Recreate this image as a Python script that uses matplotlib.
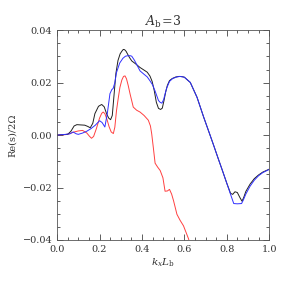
import matplotlib
matplotlib.use("Agg")
import matplotlib.pyplot as plt
from matplotlib.ticker import MultipleLocator, FormatStrFormatter, FuncFormatter

plt.rcParams['font.family'] = ['DejaVu Serif']
plt.rcParams['mathtext.fontset'] = 'dejavuserif'

# black curve
k_black = [0, 0.03, 0.05, 0.065, 0.08, 0.093, 0.11, 0.13, 0.145, 0.156, 0.168, 0.178, 0.195,
           0.21, 0.222, 0.233, 0.243, 0.252, 0.26, 0.268, 0.277, 0.287, 0.297, 0.305, 0.312,
           0.318, 0.325, 0.333, 0.342, 0.352, 0.37, 0.391, 0.41, 0.425, 0.438, 0.448, 0.458,
           0.468, 0.478, 0.488, 0.496, 0.504, 0.512, 0.52, 0.53, 0.543, 0.56, 0.575, 0.59, 0.6,
           0.628, 0.66, 0.691, 0.72, 0.74, 0.76, 0.78, 0.8, 0.818, 0.828, 0.839, 0.85, 0.862,
           0.872, 0.88, 0.89, 0.91, 0.93, 0.95, 0.97, 1.0]
v_black = [0, 0.0002, 0.0003, 0.0015, 0.0035, 0.004, 0.0039, 0.0038, 0.0033, 0.0028, 0.0045,
           0.0082, 0.011, 0.0117, 0.0108, 0.0082, 0.0065, 0.0059, 0.0075, 0.015, 0.0235, 0.0285,
           0.031, 0.032, 0.0327, 0.0326, 0.032, 0.0308, 0.0295, 0.0283, 0.0272, 0.0258, 0.0248,
           0.024, 0.0225, 0.0205, 0.017, 0.0125, 0.0102, 0.0098, 0.0103, 0.0132, 0.0165, 0.019,
           0.0208, 0.0216, 0.0222, 0.0224, 0.0223, 0.0221, 0.0201, 0.0144, 0.0069, 0.0003,
           -0.0043, -0.009, -0.0136, -0.0183, -0.0222, -0.0226, -0.0216, -0.0219, -0.0238,
           -0.0252, -0.0238, -0.0215, -0.0187, -0.0166, -0.0152, -0.0141, -0.013]

# blue curve
k_blue = [0, 0.04, 0.06, 0.075, 0.09, 0.1, 0.12, 0.14, 0.16, 0.18, 0.2, 0.212, 0.225, 0.237,
          0.249, 0.258, 0.264, 0.272, 0.28, 0.295, 0.31, 0.322, 0.333, 0.345, 0.352, 0.365,
          0.378, 0.391, 0.41, 0.425, 0.438, 0.45, 0.462, 0.47, 0.478, 0.486, 0.494, 0.502, 0.51,
          0.517, 0.53, 0.545, 0.565, 0.58, 0.6, 0.628, 0.66, 0.691, 0.72, 0.74, 0.76, 0.78, 0.8,
          0.818, 0.833, 0.85, 0.87, 0.878, 0.89, 0.91, 0.93, 0.95, 0.97, 1.0]
v_blue = [0, 0.0003, 0.0005, 0.0012, 0.0005, 0.0003, 0.0008, 0.0015, 0.0025, 0.0038, 0.0055,
          0.0048, 0.0031, 0.0085, 0.0158, 0.0174, 0.0178, 0.02, 0.0239, 0.0275, 0.0293, 0.0301,
          0.0303, 0.0303, 0.0301, 0.0285, 0.0265, 0.0245, 0.0232, 0.0222, 0.0207, 0.0192,
          0.0168, 0.015, 0.0132, 0.0125, 0.0122, 0.0135, 0.016, 0.018, 0.0205, 0.0216, 0.0222,
          0.0224, 0.0221, 0.0201, 0.0144, 0.0069, 0.0003, -0.0043, -0.009, -0.0136, -0.0183,
          -0.0226, -0.0261, -0.0262, -0.0261, -0.0248, -0.0225, -0.0195, -0.0172, -0.0155,
          -0.0143, -0.0131]

# red curve
k_red = [0, 0.04, 0.06, 0.08, 0.1, 0.12, 0.14, 0.152, 0.162, 0.172, 0.185, 0.2, 0.21, 0.217,
         0.225, 0.235, 0.245, 0.255, 0.265, 0.272, 0.28, 0.288, 0.296, 0.305, 0.313, 0.32,
         0.327, 0.335, 0.344, 0.359, 0.375, 0.391, 0.41, 0.43, 0.44, 0.446, 0.454, 0.462, 0.474,
         0.486, 0.499, 0.509, 0.52, 0.53, 0.54, 0.549, 0.565, 0.58, 0.596, 0.62, 0.63]
v_red = [0, 0.0002, 0.0006, 0.0012, 0.0016, 0.0018, 0.0008, -0.0004, -0.0012, -0.0005, 0.0025,
         0.0065, 0.0083, 0.0088, 0.0082, 0.006, 0.0032, 0.0012, 0.0006, 0.003, 0.0094, 0.014,
         0.0182, 0.021, 0.0224, 0.0226, 0.0215, 0.019, 0.0157, 0.0107, 0.0095, 0.0088, 0.0075,
         0.0057, 0.0035, 0.0005, -0.005, -0.0107, -0.0122, -0.0135, -0.0163, -0.0214, -0.0213,
         -0.0207, -0.0225, -0.025, -0.0302, -0.0325, -0.0346, -0.0396, -0.043]

fig = plt.figure(figsize=(2.83, 2.83), dpi=100)
ax = fig.add_axes([0.202, 0.152, 0.749, 0.741])

ax.plot(k_red, v_red, color='#ff4040', lw=0.7)
ax.plot(k_black, v_black, color='#202020', lw=0.7)
ax.plot(k_blue, v_blue, color='#3030ff', lw=0.7)

ax.set_xlim(0, 1.0)
ax.set_ylim(-0.04, 0.04)
ax.xaxis.set_major_locator(MultipleLocator(0.2))
ax.xaxis.set_minor_locator(MultipleLocator(0.05))
ax.yaxis.set_major_locator(MultipleLocator(0.02))
ax.yaxis.set_minor_locator(MultipleLocator(0.005))
ax.xaxis.set_major_formatter(FormatStrFormatter('%.1f'))
ax.yaxis.set_major_formatter(FuncFormatter(
    lambda v, p: ('%.2f' % v).replace('-', '\u2212') if abs(v) > 1e-9 else '0.00'))
ax.tick_params(which='both', direction='in', top=True, right=True, colors='#444444',
               labelcolor='#333333', labelsize=7, width=0.6)
ax.tick_params(which='major', length=4.5)
ax.tick_params(which='minor', length=2.2)
for s in ax.spines.values():
    s.set_color('#555555')
    s.set_linewidth(0.6)

ax.set_title(r'$A_{\rm b}\!=\!3$', fontsize=9, color='#333333', pad=3)
ax.set_xlabel(r'$k_x L_{\rm b}$', fontsize=7.5, color='#333333', labelpad=2)
ax.set_ylabel('Re(s)/2\u03a9', fontsize=7, color='#333333', labelpad=4)

fig.savefig('out.png', dpi=100)
